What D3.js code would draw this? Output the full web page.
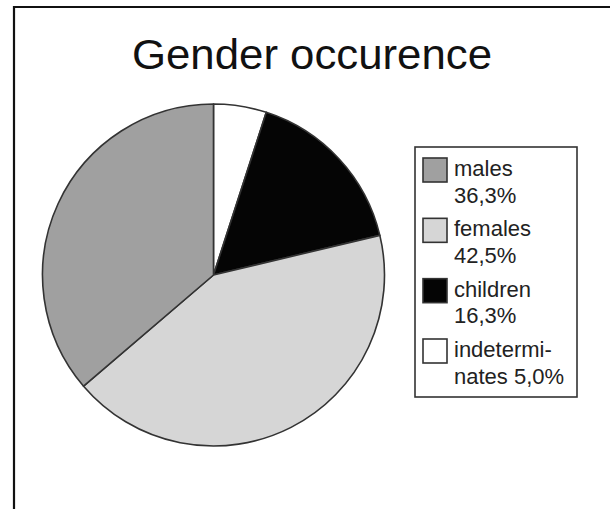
<!DOCTYPE html>
<html><head><meta charset="utf-8">
<script src="https://cdn.jsdelivr.net/npm/d3@7"></script>
<style>html,body{margin:0;padding:0;background:#fff;}svg{display:block;}</style>
</head><body>
<svg id="c" width="610" height="509"></svg>
<script>
const title = "Gender occurence";
const categories = ["males", "females", "children", "indeterminates"];
const values = [36.3, 42.5, 16.3, 5.0];
const colors = ["#a0a0a0", "#d6d6d6", "#050505", "#ffffff"];
const legendLines = [["males", "36,3%"], ["females", "42,5%"], ["children", "16,3%"], ["indetermi-", "nates 5,0%"]];
// drawing order clockwise from 12 o'clock
const pieOrder = ["indeterminates", "children", "females", "males"];

const svg = d3.select("#c");
const font = "Arial, 'Liberation Sans', sans-serif";

// frame lines
svg.append("line").attr("x1", 14).attr("x2", 14).attr("y1", 6).attr("y2", 509)
  .attr("stroke", "#111").attr("stroke-width", 2.2);
svg.append("line").attr("x1", 13).attr("x2", 610).attr("y1", 7).attr("y2", 7)
  .attr("stroke", "#111").attr("stroke-width", 2.2);

svg.append("text").attr("x", 312).attr("y", 69).attr("text-anchor", "middle")
  .attr("font-family", font).attr("font-size", 42).attr("fill", "#111")
  .attr("textLength", 360).attr("lengthAdjust", "spacingAndGlyphs")
  .text(title);

const data = pieOrder.map(n => { const i = categories.indexOf(n); return {name: n, value: values[i], color: colors[i]}; });
const pie = d3.pie().sort(null).value(d => d.value);
const arc = d3.arc().innerRadius(0).outerRadius(171);
const g = svg.append("g").attr("transform", "translate(213.5,275)");
g.selectAll("path").data(pie(data)).join("path")
  .attr("d", arc).attr("fill", d => d.data.color)
  .attr("stroke", "#333").attr("stroke-width", 1.6).attr("stroke-linejoin", "round");

// legend
const lg = svg.append("g");
lg.append("rect").attr("x", 415).attr("y", 147).attr("width", 162).attr("height", 250)
  .attr("fill", "#fff").attr("stroke", "#333").attr("stroke-width", 1.6);
const ly = d3.scaleLinear().domain([0, 3]).range([158, 339]);
categories.forEach((c, i) => {
  const y = ly(i);
  lg.append("rect").attr("x", 423).attr("y", y).attr("width", 24).attr("height", 24)
    .attr("fill", colors[i]).attr("stroke", "#333").attr("stroke-width", 1.6);
  legendLines[i].forEach((t, j) => {
    lg.append("text").attr("x", 454).attr("y", y + 18 + j * 26.5)
      .attr("font-family", font).attr("font-size", 22).attr("fill", "#222").text(t);
  });
});
</script>
</body></html>
